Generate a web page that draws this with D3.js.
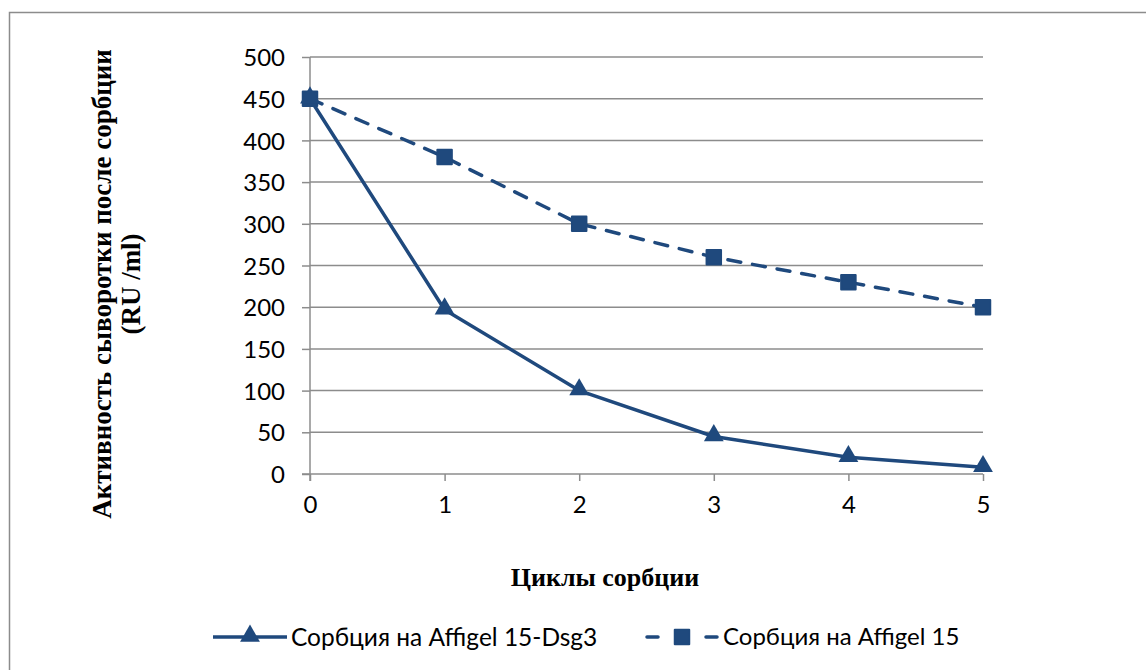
<!DOCTYPE html>
<html>
<head>
<meta charset="utf-8">
<script src="https://cdn.jsdelivr.net/npm/d3@7"></script>
<style>
  html, body { margin: 0; padding: 0; background: #fff; }
  svg { display: block; }
</style>
</head>
<body>
<svg id="chart" width="1146" height="670"></svg>
<script>
// Sorption cycles and serum activity (RU/ml) after each cycle
const cycles = [0, 1, 2, 3, 4, 5];
const dsg3Values = [450, 197, 100, 45, 20, 8];
const affigelValues = [450, 380, 300, 260, 230, 200];
const yTicks = [0, 50, 100, 150, 200, 250, 300, 350, 400, 450, 500];
const seriesNames = ["Сорбция на Affigel 15-Dsg3", "Сорбция на Affigel 15"];
const xTitle = "Циклы сорбции";
const yTitleLines = ["Активность сыворотки после сорбции", "(RU /ml)"];

const color = "#1f497d";
const gridColor = "#8c8c8c";
const tickFont = "Lato, 'Open Sans', sans-serif";
const titleFont = "'Liberation Serif', 'Times New Roman', serif";

const svg = d3.select("#chart");

// outer frame of the chart area
svg.append("rect")
  .attr("x", 9.5).attr("y", 12.5)
  .attr("width", 1200).attr("height", 700)
  .attr("fill", "#fff")
  .attr("stroke", gridColor).attr("stroke-width", 1.5);

const x = d3.scaleLinear().domain([0, 5]).range([310, 983]);
const y = d3.scaleLinear().domain([0, 500]).range([474, 57]);

// horizontal gridlines
svg.append("g")
  .selectAll("line")
  .data(yTicks.filter(d => d > 0))
  .join("line")
  .attr("x1", x(0)).attr("x2", x(5))
  .attr("y1", d => y(d)).attr("y2", d => y(d))
  .attr("stroke", gridColor).attr("stroke-width", 1.5);

// y axis
const yAxis = svg.append("g")
  .attr("transform", `translate(${x(0)},0)`)
  .call(d3.axisLeft(y).tickValues(yTicks).tickSize(8).tickPadding(17));
yAxis.select(".domain").attr("stroke", gridColor).attr("stroke-width", 1.5)
  .attr("d", `M0,${y(500)}V${y(0) + 7}`);
yAxis.selectAll(".tick line").attr("stroke", gridColor).attr("stroke-width", 1.5);
yAxis.selectAll(".tick text")
  .attr("font-family", tickFont).attr("font-size", 24).attr("fill", "#000")
  .attr("dy", "0.36em");

// x axis
const xAxis = svg.append("g")
  .attr("transform", `translate(0,${y(0)})`)
  .call(d3.axisBottom(x).tickValues(cycles).tickFormat(d3.format("d")).tickSize(7).tickPadding(15));
xAxis.select(".domain").attr("stroke", gridColor).attr("stroke-width", 1.5)
  .attr("d", `M${x(0) - 8},0H${x(5)}`);
xAxis.selectAll(".tick line").attr("stroke", gridColor).attr("stroke-width", 1.5);
xAxis.selectAll(".tick text")
  .attr("font-family", tickFont).attr("font-size", 24).attr("fill", "#000");

// series lines
const line = d3.line().x((d, i) => x(cycles[i])).y(d => y(d));

svg.append("path")
  .datum(affigelValues)
  .attr("d", line)
  .attr("fill", "none").attr("stroke", color).attr("stroke-width", 3.5)
  .attr("stroke-dasharray", "13,12").attr("stroke-linecap", "round");

svg.append("path")
  .datum(dsg3Values)
  .attr("d", line)
  .attr("fill", "none").attr("stroke", color).attr("stroke-width", 3.5)
  .attr("stroke-linejoin", "round");

// markers
const square = d3.symbol().type(d3.symbolSquare).size(210);
const triangle = d3.symbol().type(d3.symbolTriangle).size(170);

svg.append("g")
  .selectAll("path")
  .data(affigelValues)
  .join("path")
  .attr("transform", (d, i) => `translate(${x(cycles[i])},${y(d)})`)
  .attr("d", square)
  .attr("fill", color).attr("stroke", color).attr("stroke-width", 2)
  .attr("stroke-linejoin", "round");

svg.append("g")
  .selectAll("path")
  .data(dsg3Values)
  .join("path")
  .attr("transform", (d, i) => `translate(${x(cycles[i])},${y(d) - 1})`)
  .attr("d", triangle)
  .attr("fill", color);

// axis titles
svg.append("text")
  .attr("x", 605).attr("y", 586)
  .attr("text-anchor", "middle")
  .attr("font-family", titleFont).attr("font-weight", "bold").attr("font-size", 26)
  .text(xTitle);

const yTitle = svg.append("text")
  .attr("transform", "translate(111,284) rotate(-90)")
  .attr("text-anchor", "middle")
  .attr("font-family", titleFont).attr("font-weight", "bold").attr("font-size", 27);
yTitleLines.forEach((t, i) => {
  yTitle.append("tspan").attr("x", 0).attr("dy", i === 0 ? 0 : 29).text(t);
});

// legend
const legY = 637;
const leg = svg.append("g");
leg.append("line")
  .attr("x1", 213).attr("x2", 287).attr("y1", legY).attr("y2", legY)
  .attr("stroke", color).attr("stroke-width", 3.5);
leg.append("path")
  .attr("transform", `translate(250,${legY - 1})`)
  .attr("d", triangle).attr("fill", color);
leg.append("text")
  .attr("x", 291).attr("y", legY).attr("dy", "0.35em")
  .attr("font-family", tickFont).attr("font-size", 24.5)
  .text(seriesNames[0]);

leg.append("line")
  .attr("x1", 647).attr("x2", 717).attr("y1", legY).attr("y2", legY)
  .attr("stroke", color).attr("stroke-width", 3.5)
  .attr("stroke-dasharray", "11,48,11").attr("stroke-linecap", "round");
leg.append("path")
  .attr("transform", `translate(682,${legY})`)
  .attr("d", square).attr("fill", color).attr("stroke", color).attr("stroke-width", 2)
  .attr("stroke-linejoin", "round");
leg.append("text")
  .attr("x", 723).attr("y", legY).attr("dy", "0.35em")
  .attr("font-family", tickFont).attr("font-size", 24)
  .text(seriesNames[1]);
</script>
</body>
</html>
